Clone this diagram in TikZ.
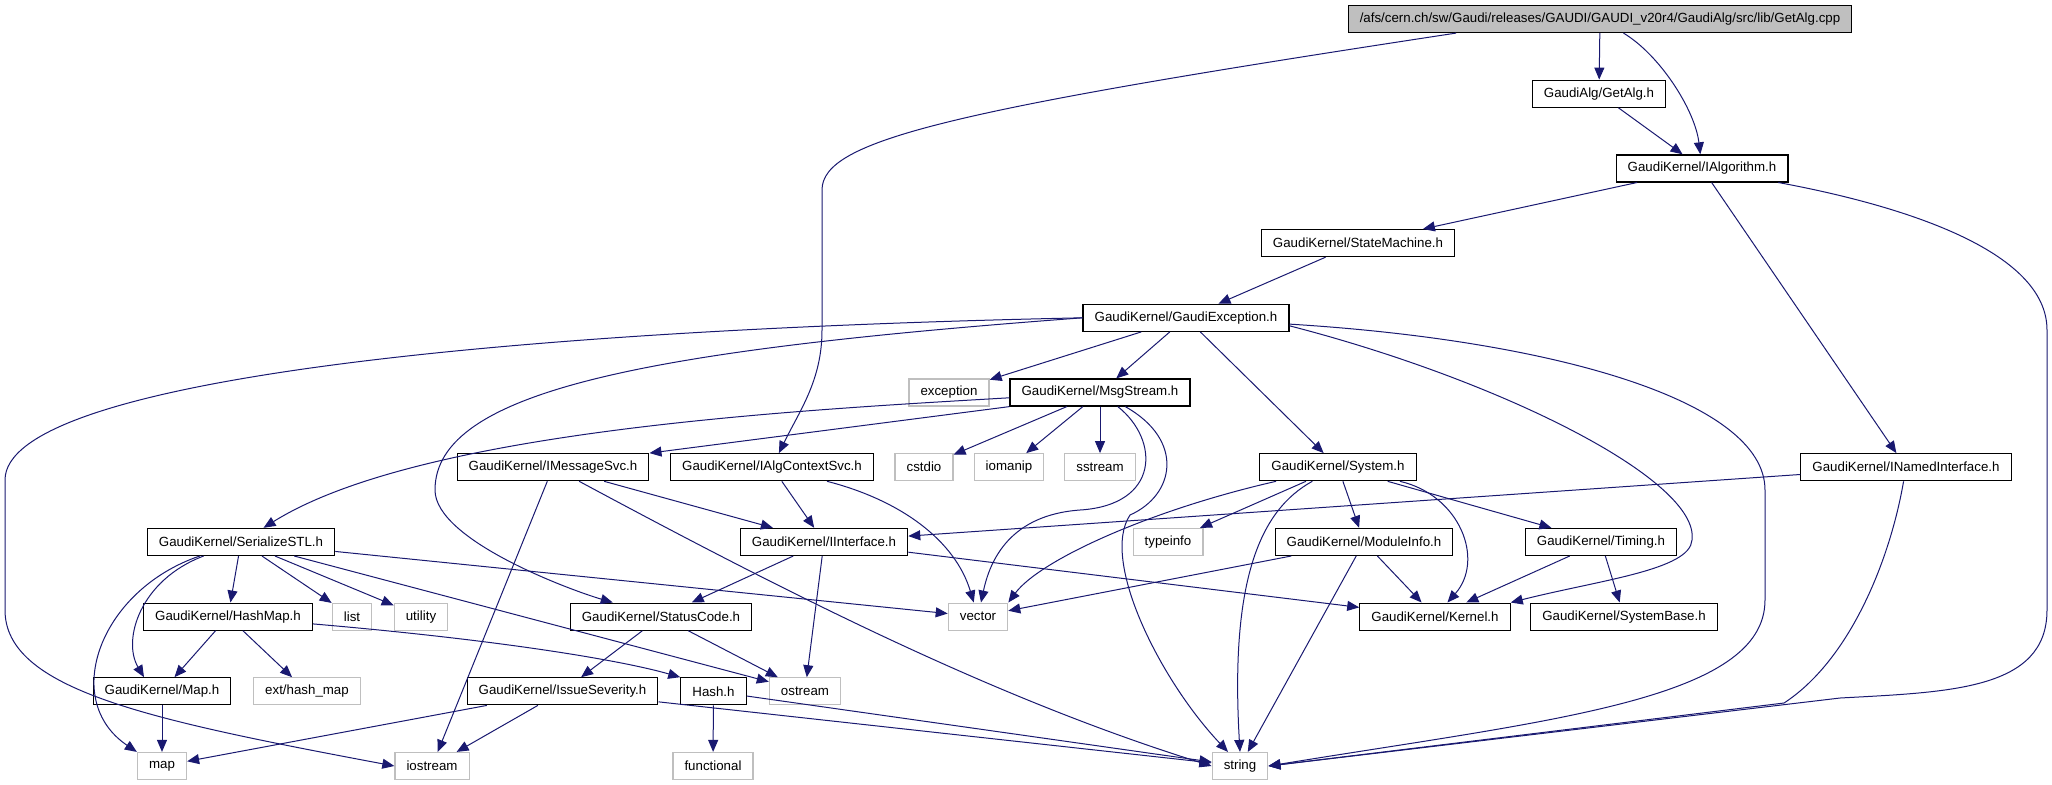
\documentclass[tikz,border=0pt]{standalone}
\usepackage{fontspec}
\setmainfont{Liberation Sans}
\usetikzlibrary{arrows.meta}

\definecolor{depedge}{HTML}{191970}
\definecolor{extgray}{HTML}{BFBFBF}

\begin{document}
\begin{tikzpicture}[x=0.5pt, y=-0.5pt,
        every node/.style={font=\fontsize{6.65}{8}\selectfont, inner xsep=5.8pt, inner ysep=0pt, minimum height=13.5pt},
        hdr/.style={draw=black, line width=0.6pt},
        sys/.style={draw=extgray, line width=0.6pt},
        src/.style={hdr, fill=extgray},
        dep/.style={-{Triangle[length=6pt, width=5pt]}, draw=depedge, line width=0.5pt}]
        \pgfmathsetmacro{\rank}{74.7}

        \useasboundingbox (0, 0) rectangle (2052, 784);

        \node[src] (root) at (1600, 19) {/afs/cern.ch/sw/Gaudi/releases/GAUDI/GAUDI\_v20r4/GaudiAlg/src/lib/GetAlg.cpp};

        \node[hdr] (getalg) at (1599, 19 + \rank) {GaudiAlg/GetAlg.h};
        \node[hdr] (ialg) at (1702, 19 + 2 * \rank) {GaudiKernel/IAlgorithm.h};
        \node[hdr] (statem) at (1358, 19 + 3 * \rank) {GaudiKernel/StateMachine.h};
        \node[hdr] (gexc) at (1186, 19 + 4 * \rank) {GaudiKernel/GaudiException.h};

        \node[sys] (exception) at (949, 19 + 5 * \rank) {exception};
        \node[hdr] (msgs) at (1100, 19 + 5 * \rank) {GaudiKernel/MsgStream.h};

        \node[hdr] (imsg) at (553, 19 + 6 * \rank) {GaudiKernel/IMessageSvc.h};
        \node[hdr] (ialgctx) at (772, 19 + 6 * \rank) {GaudiKernel/IAlgContextSvc.h};
        \node[sys] (cstdio) at (924, 19 + 6 * \rank) {cstdio};
        \node[sys] (iomanip) at (1009, 19 + 6 * \rank) {iomanip};
        \node[sys] (sstream) at (1100, 19 + 6 * \rank) {sstream};
        \node[hdr] (system) at (1338, 19 + 6 * \rank) {GaudiKernel/System.h};
        \node[hdr] (inamed) at (1906, 19 + 6 * \rank) {GaudiKernel/INamedInterface.h};

        \node[hdr] (serial) at (241, 19 + 7 * \rank) {GaudiKernel/SerializeSTL.h};
        \node[hdr] (iinterf) at (824, 19 + 7 * \rank) {GaudiKernel/IInterface.h};
        \node[sys] (typeinfo) at (1168, 19 + 7 * \rank) {typeinfo};
        \node[hdr] (module) at (1364, 19 + 7 * \rank) {GaudiKernel/ModuleInfo.h};
        \node[hdr] (timing) at (1601, 19 + 7 * \rank) {GaudiKernel/Timing.h};

        \node[hdr] (hashmap) at (228, 19 + 8 * \rank) {GaudiKernel/HashMap.h};
        \node[sys] (list) at (352, 19 + 8 * \rank) {list};
        \node[sys] (utility) at (421, 19 + 8 * \rank) {utility};
        \node[hdr] (statusc) at (661, 19 + 8 * \rank) {GaudiKernel/StatusCode.h};
        \node[sys] (vector) at (978, 19 + 8 * \rank) {vector};
        \node[hdr] (kernel) at (1435, 19 + 8 * \rank) {GaudiKernel/Kernel.h};
        \node[hdr] (sysbase) at (1624, 19 + 8 * \rank) {GaudiKernel/SystemBase.h};

        \node[hdr] (maph) at (162, 19 + 9 * \rank) {GaudiKernel/Map.h};
        \node[sys] (exthash) at (307, 19 + 9 * \rank) {ext/hash\_map};
        \node[hdr] (issue) at (562.5, 19 + 9 * \rank) {GaudiKernel/IssueSeverity.h};
        \node[hdr] (hash) at (713.5, 19 + 9 * \rank) {Hash.h};
        \node[sys] (ostream) at (805, 19 + 9 * \rank) {ostream};

        \node[sys] (map) at (162, 19 + 10 * \rank) {map};
        \node[sys] (iostream) at (432, 19 + 10 * \rank) {iostream};
        \node[sys] (functional) at (713, 19 + 10 * \rank) {functional};
        \node[sys] (string) at (1240, 19 + 10 * \rank) {string};

        \draw[dep] (root) -- (getalg);
        \draw[dep] (root) .. controls (1660, 55) and (1695, 110) .. (ialg);
        \draw[dep] ([xshift=-72pt]root.south) .. controls (950, 110) and (822, 140) .. (822, 190) -- (822, 330) .. controls (822, 380) and (800, 410) .. (ialgctx);

        \draw[dep] (getalg) -- (ialg);

        \draw[dep] (ialg) -- (statem);
        \draw[dep] (ialg) -- (inamed);
        \draw[dep] (ialg) .. controls (1900, 205) and (2047, 250) .. (2047, 330) -- (2047, 610) .. controls (2047, 690) and (1950, 692) .. (1840, 698) -- (string.east);

        \draw[dep] (statem) -- (gexc);

        \draw[dep] (gexc.west) .. controls (500, 330) and (5, 380) .. (5, 480) -- (5, 610) .. controls (5, 690) and (150, 720) .. (iostream.west);
        \draw[dep] (gexc.west) .. controls (650, 350) and (435, 390) .. (435, 490) .. controls (435, 540) and (570, 590) .. (statusc);
        \draw[dep] (gexc) -- (exception);
        \draw[dep] (gexc) -- (msgs);
        \draw[dep] (gexc) -- (system);
        \draw[dep] ([yshift=-4pt]gexc.east) .. controls (1500, 380) and (1700, 480) .. (1692, 540) .. controls (1690, 570) and (1600, 580) .. (kernel.north east);
        \draw[dep] (gexc) .. controls (1550, 340) and (1765, 400) .. (1765, 490) -- (1765, 600) .. controls (1765, 700) and (1550, 720) .. (string.east);

        \draw[dep] (msgs) .. controls (800, 410) and (420, 430) .. (serial);
        \draw[dep] (msgs.south west) -- (imsg.north east);
        \draw[dep] (msgs) -- (cstdio);
        \draw[dep] (msgs) -- (iomanip);
        \draw[dep] (msgs) -- (sstream);
        \draw[dep] (msgs) .. controls (1160, 440) and (1160, 505) .. (1080, 510) .. controls (1010, 515) and (990, 560) .. (vector);
        \draw[dep] (msgs) .. controls (1185, 440) and (1175, 495) .. (1130, 515) .. controls (1100, 560) and (1160, 680) .. ([xshift=-6pt]string.north);

        \draw[dep] (imsg) -- (iostream);
        \draw[dep] (imsg) .. controls (800, 600) and (1000, 700) .. (string.west);
        \draw[dep] (imsg) -- (iinterf);

        \draw[dep] (ialgctx) -- (iinterf);
        \draw[dep] (ialgctx) .. controls (900, 500) and (955, 540) .. (vector);

        \draw[dep] (inamed) -- (iinterf);
        \draw[dep] (inamed) .. controls (1890, 560) and (1850, 660) .. (1784, 703) -- (string.east);

        \draw[dep] (system) .. controls (1150, 510) and (1040, 560) .. (vector.north east);
        \draw[dep] (system) -- (typeinfo);
        \draw[dep] (system) .. controls (1260, 510) and (1230, 580) .. (string.north);
        \draw[dep] (system) -- (module);
        \draw[dep] (system) .. controls (1460, 495) and (1485, 560) .. (kernel);
        \draw[dep] (system) -- (timing);

        \draw[dep] (module) -- (vector);
        \draw[dep] (module) -- (kernel);
        \draw[dep] (module) -- (string);

        \draw[dep] (timing) -- (kernel);
        \draw[dep] (timing) -- (sysbase);

        \draw[dep] (iinterf) -- (statusc);
        \draw[dep] (iinterf) -- (ostream);
        \draw[dep] (iinterf) -- (kernel);

        \draw[dep] (serial) -- (hashmap);
        \draw[dep] (serial) .. controls (140, 580) and (122, 640) .. ([xshift=-9pt]maph.north);
        \draw[dep] (serial) .. controls (100, 590) and (60, 700) .. (map.north west);
        \draw[dep] (serial) -- (list);
        \draw[dep] (serial) -- (utility);
        \draw[dep] (serial) -- (vector);
        \draw[dep] (serial) -- (ostream);

        \draw[dep] (hashmap) -- (maph);
        \draw[dep] (hashmap) -- (exthash);
        \draw[dep] (hashmap) .. controls (500, 640) and (620, 660) .. (hash.north west);

        \draw[dep] (statusc) -- (issue);
        \draw[dep] (statusc) -- (ostream);

        \draw[dep] (issue) -- (map);
        \draw[dep] (issue) -- (iostream);
        \draw[dep] (issue) -- (string);

        \draw[dep] (hash) -- (functional);
        \draw[dep] (hash) -- (string);

        \draw[dep] (maph) -- (map);
    \end{tikzpicture}
\end{document}
